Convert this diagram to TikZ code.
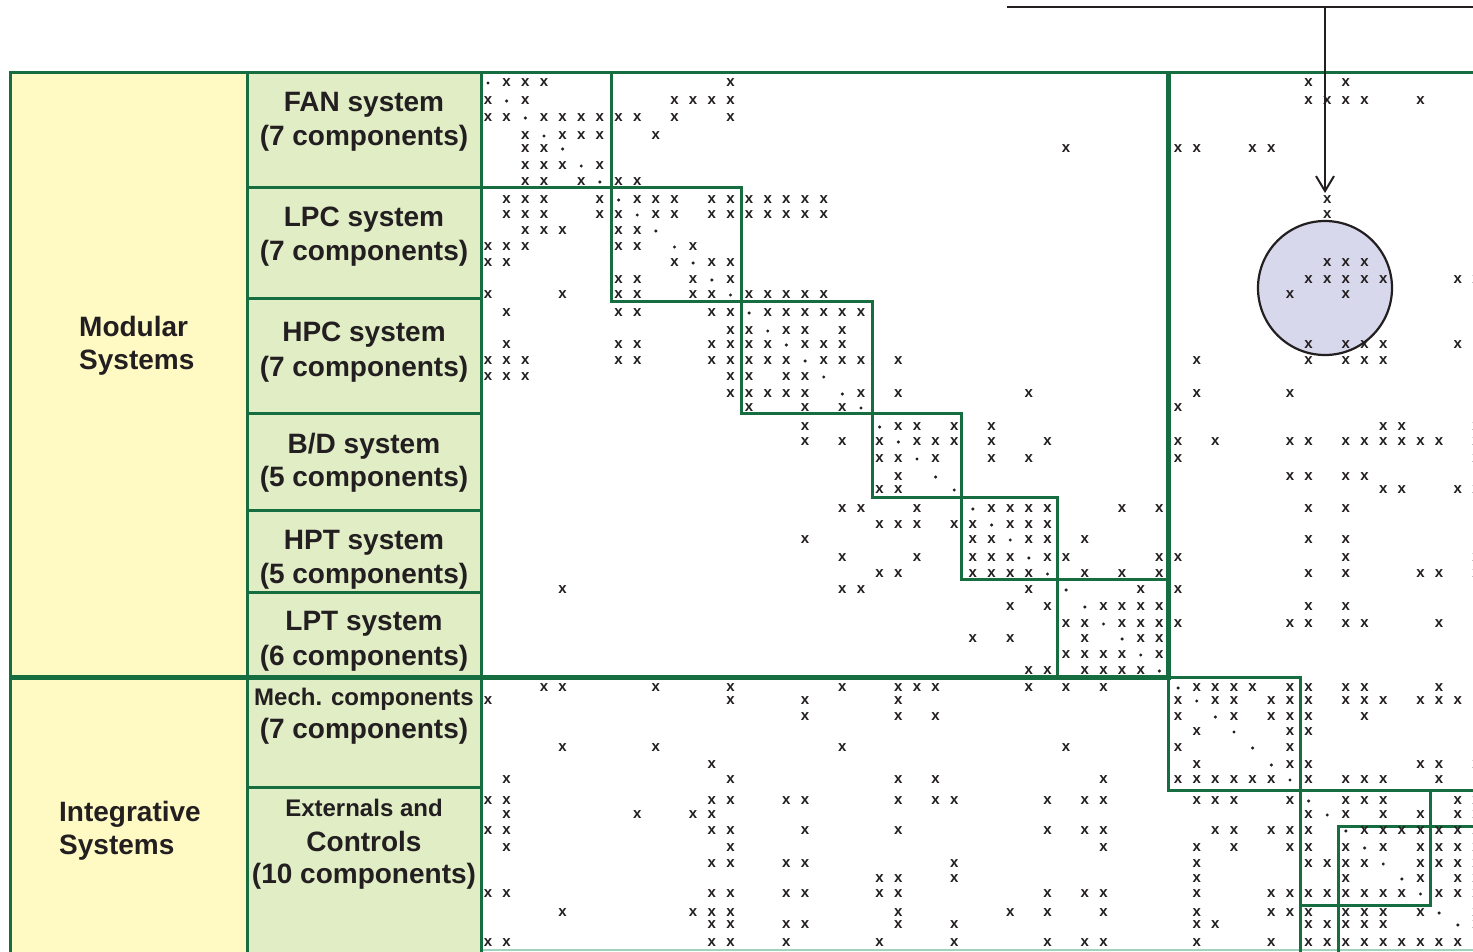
\documentclass[tikz,border=0pt]{standalone}
\usepackage{fontspec}
\setmainfont{Liberation Sans}
\usetikzlibrary{arrows.meta}
\definecolor{gline}{RGB}{22,110,64}
\definecolor{ylw}{RGB}{255,250,196}
\definecolor{lgr}{RGB}{224,237,197}
\definecolor{lav}{RGB}{216,216,236}
\definecolor{ink}{RGB}{35,31,32}
\definecolor{teal}{RGB}{160,210,190}
\tikzset{
  xm/.style={font=\fontsize{15}{15}\selectfont\bfseries, text=ink, inner sep=0pt, anchor=center},
  blk/.style={draw=gline, line width=3pt},
  thk/.style={draw=gline, line width=5pt},
  ycell/.style={fill=ylw, draw=gline, line width=3pt},
  gcell/.style={fill=lgr, draw=gline, line width=3pt},
  lbl/.style={font=\fontsize{28}{34}\selectfont\bfseries, text=ink, anchor=base, inner sep=0pt},
  slbl/.style={font=\fontsize{24}{28}\selectfont\bfseries, text=ink, anchor=base, inner sep=0pt},
  glbl/.style={font=\fontsize{28}{34}\selectfont\bfseries, text=ink, anchor=base west, inner sep=0pt},
}
\begin{document}
\begin{tikzpicture}[x=1pt,y=-1pt]
\useasboundingbox (0,0) rectangle (1473,951);
\clip (0,0) rectangle (1473,951);
\fill[white] (0,0) rectangle (1473,951);
% left label cells
\draw[ycell] (10,72) rectangle (247,677);
\draw[ycell] (10,677) rectangle (247,970);
\draw[gcell] (247,72) rectangle (481,187);
\draw[gcell] (247,187) rectangle (481,298);
\draw[gcell] (247,298) rectangle (481,413);
\draw[gcell] (247,413) rectangle (481,510);
\draw[gcell] (247,510) rectangle (481,592);
\draw[gcell] (247,592) rectangle (481,677);
\draw[gcell] (247,677) rectangle (481,787);
\draw[gcell] (247,787) rectangle (481,970);
% labels
\node[glbl] (mod1) at (79,336) {Modular};
\node[glbl] (mod2) at (79,369) {Systems};
\node[glbl] (int1) at (59,821) {Integrative};
\node[glbl] (int2) at (59,854) {Systems};
\node[lbl] (fan1) at (364,111) {FAN system};
\node[lbl] (fan2) at (364,145) {(7 components)};
\node[lbl] (lpc1) at (364,226) {LPC system};
\node[lbl] (lpc2) at (364,260) {(7 components)};
\node[lbl] (hpc1) at (364,341) {HPC system};
\node[lbl] (hpc2) at (364,376) {(7 components)};
\node[lbl] (bd1) at (364,453) {B/D system};
\node[lbl] (bd2) at (364,486) {(5 components)};
\node[lbl] (hpt1) at (364,549) {HPT system};
\node[lbl] (hpt2) at (364,583) {(5 components)};
\node[lbl] (lpt1) at (364,630) {LPT system};
\node[lbl] (lpt2) at (364,665) {(6 components)};
\node[slbl] (mec1) at (364,705) {Mech. components};
\node[lbl] (mec2) at (364,738) {(7 components)};
\node[slbl] (ext1) at (364,816) {Externals and};
\node[lbl] (ext2) at (364,851) {Controls};
\node[lbl] (ext3) at (364,883) {(10 components)};
% matrix frame and blocks
\draw[teal, line width=1.5pt] (481,950) -- (1473,950);
\draw[blk] (481,72) -- (1480,72);
\draw[blk] (481,72) -- (481,960);
\draw[blk] (481,72) rectangle (611,187);
\draw[blk] (611,187) rectangle (741,301);
\draw[blk] (741,301) rectangle (872,413);
\draw[blk] (872,413) rectangle (961,497);
\draw[blk] (961,497) rectangle (1057,579);
\draw[blk] (1057,579) rectangle (1168,677);
\draw[blk] (1168,677) rectangle (1300,790);
\draw[blk] (1300,790) -- (1480,790);
\draw[blk] (1300,790) -- (1300,960);
\draw[blk] (1300,790) rectangle (1430,905);
\draw[blk] (1338,960) |- (1480,826);
\draw[thk] (1168,72) -- (1168,679.5);
\draw[thk] (10,677) -- (1170.5,677);
% arrow and circle
\coordinate (top) at (1325,7);
\draw[ink, line width=2pt] (1007,7) -- (1480,7);
\node[circle, draw=ink, fill=lav, line width=2.2pt, minimum size=134pt, inner sep=0pt] (circ) at (1325,288) {};
\draw[ink, line width=2pt, -{Straight Barb[length=15pt,width=18pt,line width=2pt]}] (top) -- (1325,193);
% matrix entries
\foreach \r/\yy/\cs in {
1/83/{2,3,4,14,45,47},
2/101/{1,3,11,12,13,14,45,46,47,48,51},
3/118/{1,2,4,5,6,7,8,9,11,14},
4/136/{3,5,6,7,10},
5/149/{3,4,32,38,39,42,43},
6/166/{3,4,5,7},
7/182/{3,4,6,8,9},
8/200/{2,3,4,7,9,10,11,13,14,15,16,17,18,19,46},
9/215/{2,3,4,7,8,10,11,13,14,15,16,17,18,19,46},
10/231/{3,4,5,8,9},
11/247/{1,2,3,8,9,12},
12/263/{1,2,11,13,14,46,47,48},
13/280/{8,9,12,14,45,46,47,48,49,53,54},
14/295/{1,5,8,9,12,13,15,16,17,18,19,44,47},
15/313/{2,8,9,13,14,16,17,18,19,20,21},
16/331/{14,15,17,18,20},
17/345/{2,8,9,13,14,15,16,18,19,20,45,47,48,49,53},
18/361/{1,2,3,8,9,13,14,15,16,17,19,20,21,23,39,45,47,48,49},
19/377/{1,2,3,14,15,17,18},
20/394/{14,15,16,17,18,21,23,30,39,44},
21/408/{15,18,20,38},
22/427/{18,23,24,26,28,49,50,54},
23/442/{18,20,22,24,25,26,28,31,38,40,44,45,47,48,49,50,51,52,54},
24/459/{22,23,25,28,30,38,54},
25/477/{23,44,45,47,48},
26/490/{22,23,49,50,53,54},
27/509/{20,21,24,28,29,30,31,35,37,45,47},
28/525/{22,23,24,26,27,29,30,31},
29/540/{18,27,28,30,31,33,45,47},
30/558/{20,24,27,28,29,31,32,37,38,47,54},
31/574/{22,23,27,28,29,30,33,35,37,45,47,51,52,54},
32/590/{5,20,21,30,36,38},
33/607/{29,31,34,35,36,37,45,47},
34/624/{32,33,35,36,37,38,44,45,47,48,52},
35/639/{27,29,33,36,37},
36/655/{32,33,34,35,37},
37/671/{30,31,33,34,35,36},
38/688/{4,5,10,14,20,23,24,25,30,32,34,39,40,41,42,44,45,47,48,52},
39/701/{1,14,18,23,38,40,41,43,44,45,47,48,49,51,52,53},
40/717/{18,23,25,38,41,43,44,45,48},
41/732/{39,44,45},
42/748/{5,10,20,32,38,44},
43/765/{13,39,44,45,51,52,54},
44/780/{2,14,23,25,34,38,39,40,41,42,43,45,47,48,49,52},
45/801/{1,2,13,14,17,18,23,25,26,31,33,34,39,40,41,44,47,48,49,53,54},
46/815/{2,9,12,13,45,47,49,51,53,54},
47/831/{1,2,13,14,18,23,31,33,34,40,41,43,44,45,48,49,50,51,52,53,54},
48/848/{2,14,34,39,41,44,45,47,49,51,52,53,54},
49/864/{13,14,17,18,26,39,45,46,47,48,51,52,53,54},
50/879/{22,23,26,39,47,51,53,54},
51/894/{1,2,13,14,17,18,22,23,31,33,34,39,43,44,45,46,47,48,49,50,52,53,54},
52/913/{5,12,13,14,23,29,31,34,39,43,44,45,47,48,49,51,54},
53/925/{13,14,17,18,23,26,39,40,45,46,47,48,49,54},
54/943/{1,2,13,14,17,22,26,31,33,34,39,43,45,46,47,48,49,50,51,52,53}}{
  \fill[ink] ({488+18.65*(\r-1)},\yy) circle[radius=1.7pt];
  \foreach \c in \cs {\node[xm] (m\r-\c) at ({488+18.65*(\c-1)},\yy) {x};}
}
\end{tikzpicture}
\end{document}
